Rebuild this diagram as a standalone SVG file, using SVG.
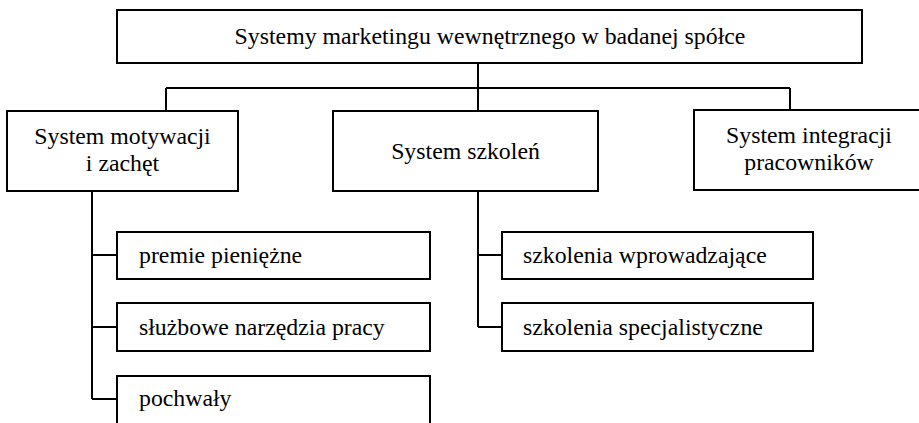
<svg xmlns="http://www.w3.org/2000/svg" width="919" height="423" viewBox="0 0 919 423">
<style>
.box{fill:#fff;stroke:#000;stroke-width:2}
.ln{fill:none;stroke:#000;stroke-width:2}
.c{text-anchor:middle}
</style>
<rect width="919" height="423" fill="#fff"/>
<g id="connectors">
<path class="ln" d="M478 63V88M166 88H790M166 88V111M478 88V111M790 88V110"/>
<path class="ln" d="M92 191V399M92 255H117M92 327H117M92 399H117"/>
<path class="ln" d="M478 191V327M478 255H502M478 327H502"/>
</g>
<g font-family="Liberation Serif, Tinos, DejaVu Serif, serif" font-size="23.8" fill="#000">
<g id="root"><rect class="box" x="117" y="10" width="745" height="53"/><text class="c" x="490" y="44">Systemy marketingu wewnętrznego w badanej spółce</text></g>
<g id="motywacja"><rect class="box" x="7" y="111" width="231" height="80"/><text class="c" x="122.5" y="144">System motywacji</text><text class="c" x="122.5" y="171">i zachęt</text></g>
<g id="szkolenia"><rect class="box" x="333" y="111" width="265" height="80"/><text class="c" x="465.5" y="159">System szkoleń</text></g>
<g id="integracja"><rect class="box" x="694" y="110" width="232" height="80"/><text class="c" x="809" y="143">System integracji</text><text class="c" x="809" y="170">pracowników</text></g>
<g id="premie"><rect class="box" x="117" y="232" width="313" height="47"/><text x="139" y="263">premie pieniężne</text></g>
<g id="narzedzia"><rect class="box" x="117" y="303" width="313" height="48"/><text x="139" y="335">służbowe narzędzia pracy</text></g>
<g id="pochwaly"><rect class="box" x="117" y="376" width="313" height="50"/><text x="139" y="406">pochwały</text></g>
<g id="wprowadzajace"><rect class="box" x="502" y="232" width="311" height="47"/><text x="523" y="263">szkolenia wprowadzające</text></g>
<g id="specjalistyczne"><rect class="box" x="502" y="303" width="311" height="48"/><text x="523" y="335">szkolenia specjalistyczne</text></g>
</g>
</svg>
